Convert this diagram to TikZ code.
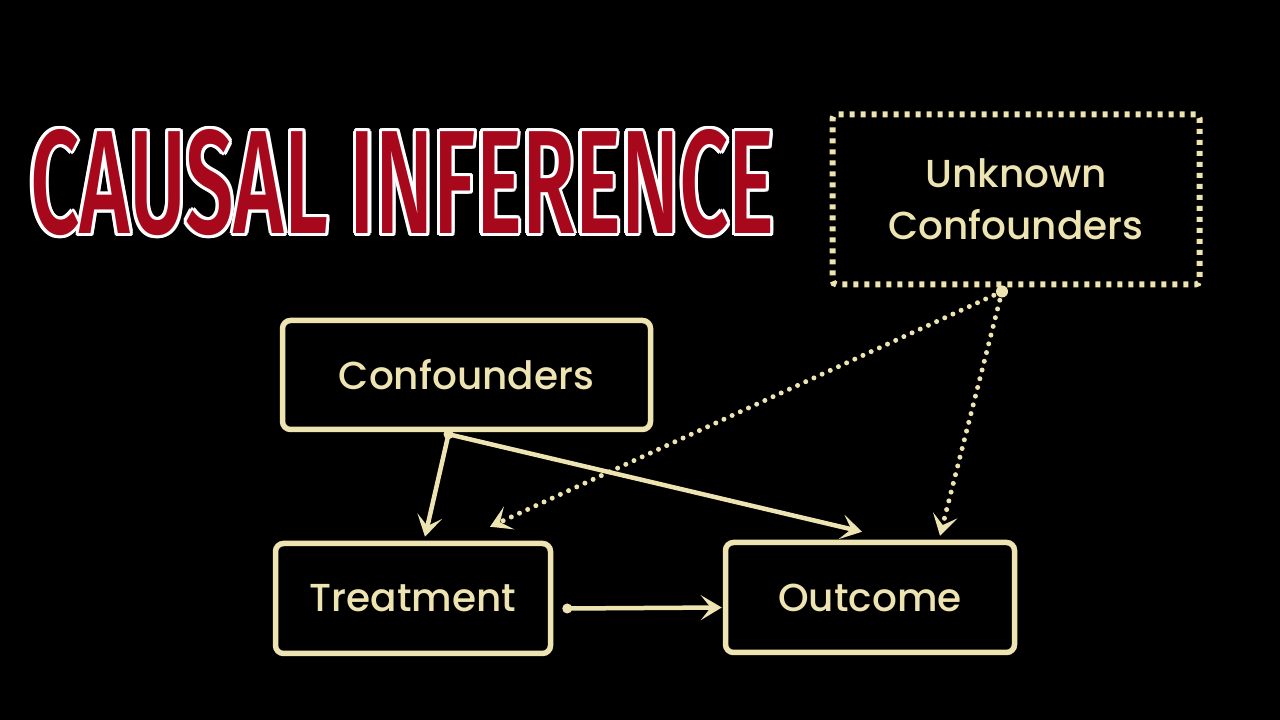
\documentclass[tikz,border=0pt]{standalone}
\usepackage{fontspec}
\usetikzlibrary{arrows.meta,calc}
\newfontfamily\boxfont{Poppins}[UprightFont=* Medium]
\newfontfamily\titlefont{Fira Sans}[UprightFont=* Medium]
\definecolor{cream}{RGB}{238,228,178}
\definecolor{titlered}{RGB}{168,8,28}
\newcommand{\titletxt}{\resizebox{744pt}{104pt}{\titlefont CAUSAL INFERENCE}}
\begin{document}
\begin{tikzpicture}[x=1pt,y=1pt,
  box/.style={draw=cream, line width=5.5pt, rounded corners=8pt, inner sep=0pt, text=cream, font=\boxfont\fontsize{39}{48}\selectfont, align=center},
  solidarr/.style={draw=cream, line width=4.5pt, -{Stealth[length=21pt,width=25pt,inset=10pt]}},
  dotarr/.style={draw=cream, line width=5pt, line cap=round, dash pattern=on 0pt off 9pt, -{Stealth[length=21pt,width=25pt,inset=10pt,line cap=butt]}},
  startdot/.style={fill=cream, circle, inner sep=0pt, minimum size=10pt}]
\useasboundingbox[fill=black] (0,0) rectangle (1280,720);
% title with white outline
\foreach \a in {0,30,...,359}{
  \node[anchor=south west, inner sep=0pt, text=white] at ($(30,484)+(\a:3.2)$) {\titletxt};
}
\node[anchor=south west, inner sep=0pt, text=titlered] (title) at (30,484) {\titletxt};
% boxes
\node[box, minimum width=368pt, minimum height=109pt] (C) at (466.5,345) {Confounders};
\node[box, minimum width=275pt, minimum height=110pt] (T) at (413,121.5) {Treatment};
\node[box, minimum width=289pt, minimum height=110pt] (O) at (870,122.5) {Outcome};
\node[box, line width=6pt, rounded corners=4pt, dash pattern=on 5pt off 6pt, minimum width=367pt, minimum height=170pt] (U) at (1016,520.5) {Unknown\\[4pt]Confounders};
% connection points
\coordinate (cs) at ($(C.south)+(-18,-2)$);
\coordinate (us) at ($(U.south)+(-14,-4)$);
\coordinate (ts) at ($(T.east)+(14,-10)$);
\coordinate (tt1) at ($(T.north)+(12,4)$);
\coordinate (tt2) at ($(T.north)+(77,14)$);
\coordinate (ot1) at ($(O.north)+(-8,8)$);
\coordinate (ot2) at ($(O.north)+(70,4)$);
\coordinate (ot3) at ($(O.west)+(-1,-10)$);
% connectors
\draw[solidarr] (cs) -- (tt1);
\draw[solidarr] (cs) -- (ot1);
\draw[solidarr] (ts) -- (ot3);
\draw[dotarr] (us) -- (tt2);
\draw[dotarr] (us) -- (ot2);
\node[startdot] (d1) at (cs) {};
\node[startdot, minimum size=12pt] (d2) at (us) {};
\node[startdot] (d3) at (ts) {};
\end{tikzpicture}
\end{document}
